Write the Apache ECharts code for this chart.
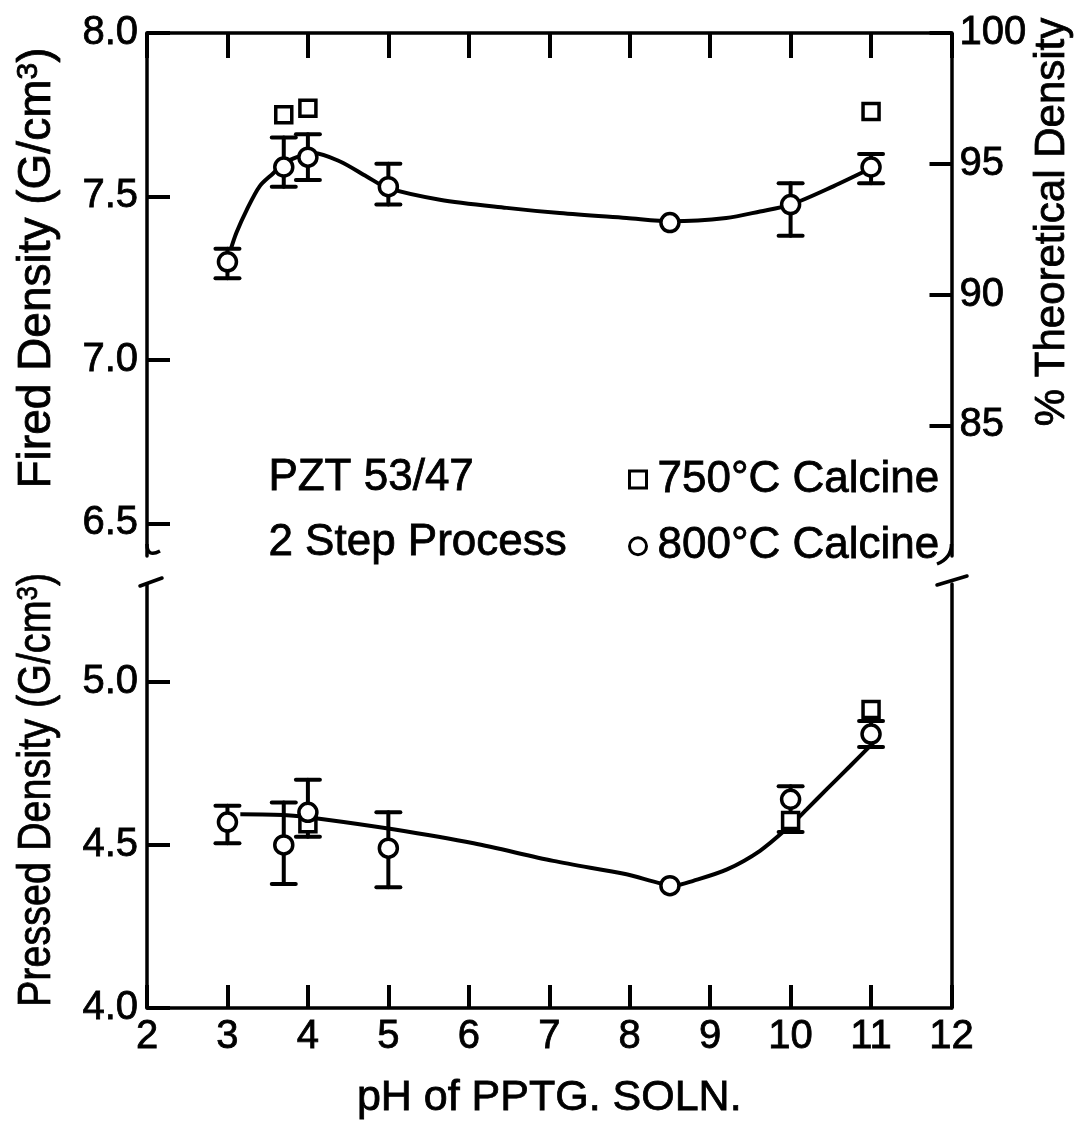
<!DOCTYPE html>
<html><head><meta charset="utf-8">
<script src="https://cdn.jsdelivr.net/npm/echarts@6/dist/echarts.min.js"></script>
<style>html,body{margin:0;padding:0;background:#fff}#c{width:1076px;height:1124px}</style>
</head><body><div id="c"></div>
<script>
// ---- tick labels ----
const xTicks = [2, 3, 4, 5, 6, 7, 8, 9, 10, 11, 12];
const firedTicks = [6.5, 7.0, 7.5, 8.0];
const pressedTicks = [4.0, 4.5, 5.0];
const theoTicks = [85, 90, 95, 100];

// ---- 800°C calcine (circles) ----
const phCircle = [3, 3.7, 4, 5, 8.5, 10, 11];
const firedCircle = [7.30, 7.59, 7.62, 7.53, 7.42, 7.475, 7.59];
const firedErrLow = [7.25, 7.53, 7.55, 7.475, null, 7.38, 7.54];
const firedErrHigh = [7.34, 7.68, 7.69, 7.60, null, 7.54, 7.63];
const pressedCircle = [4.57, 4.50, 4.60, 4.49, 4.375, 4.64, 4.84];
const pressedErrLow = [4.505, 4.38, 4.525, 4.37, null, 4.54, 4.80];
const pressedErrHigh = [4.62, 4.63, 4.70, 4.60, null, 4.68, 4.88];

// ---- 750°C calcine (squares) ----
const phSquareFired = [3.7, 4, 11];
const firedSquare = [7.75, 7.77, 7.76];
const phSquarePressed = [4, 10, 11];
const pressedSquare = [4.565, 4.575, 4.915];

// ---- hand-drawn fit curves ----
const firedCurvePH = [3.04, 3.11, 3.24, 3.40, 3.57, 3.69, 3.88, 4.07, 4.40, 4.73, 4.99, 5.64, 6.47, 7.13, 7.96, 8.52, 9.2, 9.62, 10.0, 10.53, 11.03];
const firedCurveVal = [7.337, 7.388, 7.459, 7.531, 7.571, 7.600, 7.622, 7.633, 7.607, 7.561, 7.526, 7.490, 7.465, 7.449, 7.434, 7.424, 7.434, 7.454, 7.475, 7.531, 7.590];
const pressedCurvePH = [3.16, 3.74, 4.19, 5.06, 6.06, 7.05, 7.96, 8.56, 8.79, 9.21, 9.62, 9.99, 10.20, 10.45, 10.74, 11.03];
const pressedCurveVal = [4.594, 4.591, 4.579, 4.548, 4.505, 4.451, 4.410, 4.376, 4.390, 4.425, 4.482, 4.558, 4.609, 4.671, 4.742, 4.814];

const zip = (a, b) => a.map((v, i) => [v, b[i]]);
const errData = (xs, lo, hi) => xs.map((x, i) => [x, lo[i], hi[i]]).filter(d => d[1] != null);

const FONT = 'Liberation Sans';
const BLACK = '#000';
const THICK = 0.8;

function errRender(params, api) {
  const x = api.value(0);
  const a = api.coord([x, api.value(1)]);
  const b = api.coord([x, api.value(2)]);
  const hw = 12;
  const st = { stroke: BLACK, lineWidth: 4, lineCap: 'round' };
  return { type: 'group', children: [
    { type: 'line', shape: { x1: a[0], y1: a[1], x2: b[0], y2: b[1] }, style: st },
    { type: 'line', shape: { x1: a[0] - hw, y1: a[1], x2: a[0] + hw, y2: a[1] }, style: st },
    { type: 'line', shape: { x1: b[0] - hw, y1: b[1], x2: b[0] + hw, y2: b[1] }, style: st }
  ] };
}

const axisLine = { show: true, onZero: false, lineStyle: { color: BLACK, width: 3.5 } };
const labelStyle = { color: BLACK, fontFamily: FONT, fontSize: 40, textBorderColor: BLACK, textBorderWidth: THICK };
const nameRich = {
  a: { fontFamily: FONT, fontSize: 46, fill: BLACK, stroke: BLACK, lineWidth: THICK },
  s: { fontFamily: FONT, fontSize: 30, fill: BLACK, stroke: BLACK, lineWidth: THICK, verticalAlign: 'top', padding: [0, 0, 16, 0] }
};
const symStyle = { color: '#fff', borderColor: BLACK, borderWidth: 3.5, opacity: 1 };

const option = {
  animation: false,
  backgroundColor: '#fff',
  grid: [
    { left: 147, right: 124.5, top: 33, height: 523, outerBoundsMode: 'none', containLabel: false },
    { left: 147, right: 124.5, top: 584, height: 424, outerBoundsMode: 'none', containLabel: false }
  ],
  xAxis: [
    { type: 'value', gridIndex: 0, position: 'top', min: 2, max: 12, interval: 1,
      axisLine: axisLine, axisTick: { inside: true, length: 25, lineStyle: { color: BLACK, width: 4 } },
      axisLabel: { show: false }, splitLine: { show: false } },
    { type: 'value', gridIndex: 1, position: 'bottom', min: 2, max: 12, interval: 1,
      axisLine: axisLine, axisTick: { inside: true, length: 23, lineStyle: { color: BLACK, width: 4 } },
      axisLabel: Object.assign({ margin: 9, customValues: xTicks }, labelStyle),
      splitLine: { show: false },
      name: 'pH of PPTG. SOLN.', nameLocation: 'middle', nameGap: 69,
      nameTextStyle: { fontFamily: FONT, fontSize: 43, color: BLACK, textBorderColor: BLACK, textBorderWidth: THICK } }
  ],
  yAxis: [
    { type: 'value', gridIndex: 0, position: 'left', min: 6.4, max: 8.0,
      axisLine: axisLine,
      axisTick: { inside: true, length: 23, customValues: firedTicks, lineStyle: { color: BLACK, width: 4 } },
      axisLabel: Object.assign({ margin: 9, customValues: firedTicks, formatter: v => v.toFixed(1) }, labelStyle),
      splitLine: { show: false } },
    { type: 'value', gridIndex: 0, position: 'right', min: 80, max: 100,
      axisLine: axisLine,
      axisTick: { inside: true, length: 22, customValues: theoTicks, lineStyle: { color: BLACK, width: 4 } },
      axisLabel: Object.assign({ margin: 8, customValues: theoTicks }, labelStyle),
      splitLine: { show: false } },
    { type: 'value', gridIndex: 1, position: 'left', min: 4.0, max: 5.3,
      axisLine: axisLine,
      axisTick: { inside: true, length: 23, customValues: pressedTicks, lineStyle: { color: BLACK, width: 4 } },
      axisLabel: Object.assign({ margin: 9, customValues: pressedTicks, formatter: v => v.toFixed(1) }, labelStyle),
      splitLine: { show: false } },
    { type: 'value', gridIndex: 1, position: 'right', min: 4.0, max: 5.3,
      axisLine: axisLine, axisTick: { show: false }, axisLabel: { show: false }, splitLine: { show: false } }
  ],
  legend: {
    orient: 'vertical', left: 628, top: 457, padding: 0, itemGap: 22, itemWidth: 17, itemHeight: 17,
    selectedMode: false,
    itemStyle: { color: '#fff', borderColor: BLACK, borderWidth: 3, opacity: 1 },
    formatter: name => '{g| }' + name,
    textStyle: { fontFamily: FONT, fontSize: 44, color: BLACK, textBorderColor: BLACK, textBorderWidth: THICK,
      rich: { g: { width: 6, fontSize: 44 } } },
    data: [
      { name: '750°C Calcine', icon: 'rect' },
      { name: '800°C Calcine', icon: 'circle' }
    ]
  },
  series: [
    { type: 'line', name: 'fit fired', xAxisIndex: 0, yAxisIndex: 0, data: zip(firedCurvePH, firedCurveVal),
      smooth: 0.3, showSymbol: false, silent: true, lineStyle: { color: BLACK, width: 4 }, z: 2 },
    { type: 'line', name: 'fit pressed', xAxisIndex: 1, yAxisIndex: 2, data: zip(pressedCurvePH, pressedCurveVal),
      smooth: 0.3, showSymbol: false, silent: true, lineStyle: { color: BLACK, width: 4 }, z: 2 },
    { type: 'custom', name: 'err fired', xAxisIndex: 0, yAxisIndex: 0, renderItem: errRender,
      encode: { x: 0, y: [1, 2] }, data: errData(phCircle, firedErrLow, firedErrHigh), z: 3 },
    { type: 'custom', name: 'err pressed', xAxisIndex: 1, yAxisIndex: 2, renderItem: errRender,
      encode: { x: 0, y: [1, 2] }, data: errData(phCircle, pressedErrLow, pressedErrHigh), z: 3 },
    { type: 'scatter', name: '800°C Calcine', xAxisIndex: 0, yAxisIndex: 0, data: zip(phCircle, firedCircle),
      symbol: 'circle', symbolSize: 18, itemStyle: symStyle, z: 5 },
    { type: 'scatter', name: '800°C Calcine', xAxisIndex: 1, yAxisIndex: 2, data: zip(phCircle, pressedCircle),
      symbol: 'circle', symbolSize: 18, itemStyle: symStyle, z: 5 },
    { type: 'scatter', name: '750°C Calcine', xAxisIndex: 0, yAxisIndex: 0, data: zip(phSquareFired, firedSquare),
      symbol: 'rect', symbolSize: 16, itemStyle: symStyle, z: 4 },
    { type: 'scatter', name: '750°C Calcine', xAxisIndex: 1, yAxisIndex: 2, data: zip(phSquarePressed, pressedSquare),
      symbol: 'rect', symbolSize: 16, itemStyle: symStyle, z: 4 }
  ],
  graphic: [
    // axis break marks
    { type: 'bezierCurve', shape: { x1: 147, y1: 544, cpx1: 147, cpy1: 558, x2: 160, y2: 551 }, style: { stroke: BLACK, lineWidth: 3.5, fill: 'none' } },
    { type: 'line', shape: { x1: 140, y1: 586, x2: 162, y2: 578 }, style: { stroke: BLACK, lineWidth: 3.5, lineCap: 'round' } },
    { type: 'bezierCurve', shape: { x1: 951.5, y1: 544, cpx1: 951.5, cpy1: 558, x2: 937, y2: 564 }, style: { stroke: BLACK, lineWidth: 3.5, fill: 'none' } },
    { type: 'line', shape: { x1: 937, y1: 585, x2: 967, y2: 576 }, style: { stroke: BLACK, lineWidth: 3.5, lineCap: 'round' } },
    // annotations
    { type: 'text', left: 268, top: 455, style: { text: 'PZT 53/47', fontFamily: FONT, fontSize: 44, fill: BLACK, stroke: BLACK, lineWidth: THICK } },
    { type: 'text', left: 268, top: 520, style: { text: '2 Step Process', fontFamily: FONT, fontSize: 44, fill: BLACK, stroke: BLACK, lineWidth: THICK } },
    // left axis titles (hand-lettered, slightly condensed)
    { type: 'text', x: 37, y: 268, rotation: Math.PI / 2,
      style: { text: '{a|Fired Density (G/cm}{s|3}{a|)}', rich: nameRich, align: 'center', verticalAlign: 'middle' } },
    { type: 'text', x: 37, y: 790, rotation: Math.PI / 2, scaleX: 0.86,
      style: { text: '{a|Pressed Density (G/cm}{s|3}{a|)}', rich: nameRich, align: 'center', verticalAlign: 'middle' } },
    // right axis title
    { type: 'text', x: 1052, y: 222, rotation: Math.PI / 2,
      style: { text: '% Theoretical Density', fontFamily: FONT, fontSize: 42, fill: BLACK, stroke: BLACK, lineWidth: THICK, align: 'center', verticalAlign: 'middle' } }
  ]
};

const chart = echarts.init(document.getElementById('c'), null, { renderer: 'canvas' });
chart.setOption(option);
</script>
</body></html>
